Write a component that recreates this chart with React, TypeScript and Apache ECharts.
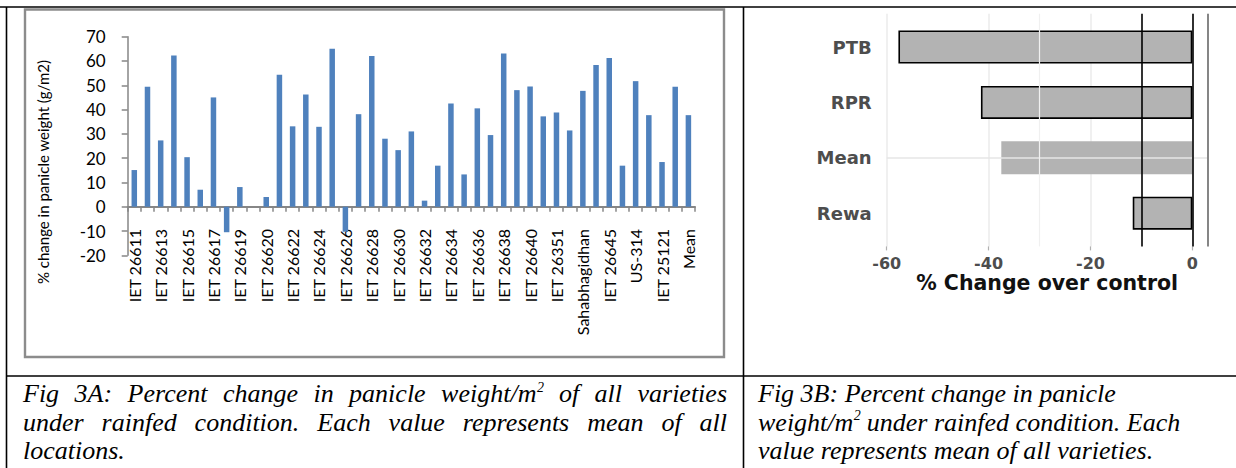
import React, { useEffect, useRef } from "react";
import * as echarts from "echarts";

// Fig 3A: varieties (every other name is printed on the axis) and % change in panicle weight
const varieties = [
  "IET 26611", "IET 26612", "IET 26613", "IET 26614", "IET 26615", "IET 26616",
  "IET 26617", "IET 26618", "IET 26619", "IET 26610", "IET 26620", "IET 26621",
  "IET 26622", "IET 26623", "IET 26624", "IET 26625", "IET 26626", "IET 26627",
  "IET 26628", "IET 26629", "IET 26630", "IET 26631", "IET 26632", "IET 26633",
  "IET 26634", "IET 26635", "IET 26636", "IET 26637", "IET 26638", "IET 26639",
  "IET 26640", "IET 26641", "IET 26351", "IET 26642", "Sahabhagidhan", "IET 26643",
  "IET 26645", "IET 26646", "US-314", "IET 26644", "IET 25121", "IR 64", "Mean",
];
const panicleChange = [
  15.1, 49.4, 27.3, 62.3, 20.4, 7.0,
  45.0, -10.5, 8.1, 0, 4.0, 54.3,
  33.1, 46.2, 32.9, 65.0, -10.3, 38.1,
  62.1, 28.0, 23.3, 31.0, 2.5, 16.9,
  42.5, 13.3, 40.5, 29.5, 63.1, 48.0,
  49.5, 37.2, 38.8, 31.4, 47.7, 58.3,
  61.2, 16.9, 51.7, 37.7, 18.4, 49.4, 37.7,
];
const yTitleA = "% change in panicle weight (g/m2)";

// Fig 3B: locations (bottom to top) and % change over control
const locations = ["Rewa", "Mean", "RPR", "PTB"];
const locationChange = [-11.7, -37.5, -41.5, -57.7];
const outlined = [true, false, true, true];
const referenceLines = [-10, 0];
const xTitleB = "% Change over control";

// Captions; "^" marks a superscript
const captionA = [
  "Fig 3A: Percent change in panicle weight/m^2 of all varieties",
  "under rainfed condition. Each value represents mean of all",
  "locations.",
];
const captionB = [
  "Fig 3B: Percent change in panicle",
  "weight/m^2 under rainfed condition. Each",
  "value represents mean of all varieties.",
];

const EXCEL_FONT = "Lato";
const GG_FONT = "DejaVu Sans";
const CAP_SIZE = 26;
const SUP_SIZE = 14;
const capFont = `italic ${CAP_SIZE}px "Liberation Serif"`;
const supFont = `italic ${SUP_SIZE}px "Liberation Serif"`;

function buildCaption(
  lines: string[],
  x0: number,
  x1: number,
  baselines: number[],
  justify: boolean[]
): any[] {
  const ctx = document.createElement("canvas").getContext("2d")!;
  const measure = (t: string, f: string) => {
    ctx.font = f;
    return ctx.measureText(t).width;
  };
  const spaceW = measure(" ", capFont);
  const out: any[] = [];
  lines.forEach((line, li) => {
    const words = line.split(" ").map((w) => {
      const [main, sup] = w.split("^");
      const wm = measure(main, capFont);
      const ws = sup ? measure(sup, supFont) : 0;
      return { main, sup, wm, width: wm + ws };
    });
    const total = words.reduce((s, w) => s + w.width, 0);
    const gap =
      justify[li] && words.length > 1 ? (x1 - x0 - total) / (words.length - 1) : spaceW;
    const yMid = baselines[li] - CAP_SIZE * 0.3375;
    let x = x0;
    words.forEach((w) => {
      out.push({
        type: "text",
        x,
        y: yMid,
        silent: true,
        style: {
          text: w.main,
          font: capFont,
          lineHeight: CAP_SIZE - 2,
          fill: "#000",
          textAlign: "left",
          textVerticalAlign: "middle",
        },
      });
      if (w.sup) {
        // superscript sits just under the line above
        out.push({
          type: "text",
          x: x + w.wm + 0.5,
          y: baselines[li] - 15.5,
          silent: true,
          style: {
            text: w.sup,
            font: supFont,
            lineHeight: 9,
            fill: "#000",
            textAlign: "left",
            textVerticalAlign: "middle",
          },
        });
      }
      x += w.width + gap;
    });
  });
  return out;
}

export default function App() {
  const ref = useRef<HTMLDivElement>(null);

  useEffect(() => {
    if (!ref.current) return;
    const chart = echarts.init(ref.current, undefined, { renderer: "svg" });

    const tableLine = (x1: number, y1: number, x2: number, y2: number) => ({
      type: "line",
      silent: true,
      shape: { x1, y1, x2, y2 },
      style: { stroke: "#000", lineWidth: 1.6 },
    });

    const graphic: any[] = [
      tableLine(0, 7, 1236, 7),
      tableLine(6.5, 7, 6.5, 468),
      tableLine(743.5, 7, 743.5, 468),
      tableLine(6, 376, 1236, 376),
      {
        type: "rect",
        silent: true,
        shape: { x: 25, y: 9.5, width: 699, height: 347.5 },
        style: { fill: "none", stroke: "#8c8c8c", lineWidth: 2.4 },
      },
      {
        type: "text",
        x: 43,
        y: 172,
        rotation: Math.PI / 2,
        silent: true,
        style: {
          text: yTitleA,
          font: `15px "${EXCEL_FONT}"`,
          fill: "#000",
          textAlign: "center",
          textVerticalAlign: "middle",
        },
      },
      ...buildCaption(captionA, 23, 727, [402.5, 431, 459.5], [true, true, false]),
      ...buildCaption(captionB, 758, 1230, [402.5, 431, 459.5], [false, false, false]),
    ];

    const ggText = { fontFamily: GG_FONT, fontWeight: "bold" as const };

    chart.setOption({
      animation: false,
      backgroundColor: "#fff",
      graphic,
      grid: [
        { left: 127.7, right: 541, top: 36.7, bottom: 212.7, containLabel: false, outerBoundsMode: "none" },
        { left: 886.7, right: 28.4, top: 19.3, bottom: 227.1, containLabel: false, outerBoundsMode: "none" },
        { left: 886.7, right: 28.4, top: 13.7, bottom: 221.6, containLabel: false, outerBoundsMode: "none" },
      ],
      xAxis: [
        {
          gridIndex: 0,
          type: "category",
          data: varieties,
          boundaryGap: true,
          axisLine: { show: true, onZero: true, lineStyle: { color: "#868686", width: 2 } },
          axisTick: { show: true, interval: 0, length: 5, lineStyle: { color: "#868686", width: 1.5 } },
          axisLabel: {
            interval: 1,
            rotate: 90,
            margin: -26.3,
            color: "#000",
            fontFamily: EXCEL_FONT,
            fontSize: 16,
          },
          splitLine: { show: false },
        },
        { gridIndex: 1, type: "value", min: -60, max: 3, show: false },
        {
          gridIndex: 2,
          type: "value",
          min: -60,
          max: 3,
          interval: 20,
          axisLine: { show: false },
          axisTick: { show: true, length: 4, lineStyle: { color: "#b0b0b0", width: 1.2 } },
          axisLabel: { showMaxLabel: false, margin: 9, color: "#4d4d4d", fontSize: 16, ...ggText },
          splitLine: { show: true, lineStyle: { color: "#ebebeb", width: 1.5 } },
          name: xTitleB,
          nameLocation: "middle",
          nameGap: 25,
          nameTextStyle: { color: "#111", fontSize: 20.5, ...ggText },
        },
      ],
      yAxis: [
        {
          gridIndex: 0,
          type: "value",
          min: -20,
          max: 70,
          interval: 10,
          axisLine: { show: true, lineStyle: { color: "#868686", width: 1.5 } },
          axisTick: { show: true, length: 6, lineStyle: { color: "#868686", width: 1.5 } },
          axisLabel: { margin: 22, color: "#000", fontFamily: EXCEL_FONT, fontSize: 17 },
          splitLine: { show: false },
        },
        {
          gridIndex: 1,
          type: "category",
          data: locations,
          axisLine: { show: false },
          axisTick: {
            show: true,
            alignWithLabel: true,
            length: 5,
            interval: (i: number) => locations[i] === "Mean",
            lineStyle: { color: "#777", width: 1.2 },
          },
          axisLabel: { margin: 15, color: "#4d4d4d", fontSize: 18, ...ggText },
          splitLine: { show: false },
        },
        { gridIndex: 2, type: "value", min: 0, max: 1, show: false },
      ],
      series: [
        {
          type: "bar",
          xAxisIndex: 0,
          yAxisIndex: 0,
          data: panicleChange,
          barWidth: 5.5,
          itemStyle: { color: "#4f81bd" },
        },
        {
          type: "bar",
          xAxisIndex: 1,
          yAxisIndex: 1,
          z: 3,
          barWidth: 33,
          data: locationChange.map((v, i) => ({
            value: v,
            itemStyle: {
              color: "#b3b3b3",
              borderColor: "#000",
              borderWidth: outlined[i] ? 1.6 : 0,
            },
          })),
        },
        {
          type: "line",
          xAxisIndex: 1,
          yAxisIndex: 1,
          z: 1,
          data: [],
          markLine: {
            silent: true,
            symbol: ["none", "none"],
            label: { show: false },
            lineStyle: { color: "#e6e6e6", width: 1.5, type: "solid" },
            data: [{ yAxis: locations.indexOf("Mean") }],
          },
        },
        {
          type: "line",
          xAxisIndex: 2,
          yAxisIndex: 2,
          z: 1,
          data: [],
          markLine: {
            silent: true,
            symbol: ["none", "none"],
            label: { show: false },
            lineStyle: { color: "#f0f0f0", width: 1.2, type: "solid" },
            data: [{ xAxis: -30 }],
          },
        },
        {
          type: "line",
          xAxisIndex: 2,
          yAxisIndex: 2,
          z: 5,
          data: [],
          markLine: {
            silent: true,
            symbol: ["none", "none"],
            label: { show: false },
            lineStyle: { color: "#000", width: 1.6, type: "solid" },
            data: [
              ...referenceLines.map((v) => ({ xAxis: v })),
              { xAxis: 3, lineStyle: { color: "#6b6b6b", width: 1.6, type: "solid" } },
            ],
          },
        },
      ],
    });

    return () => chart.dispose();
  }, []);

  return (
    <div
      ref={ref}
      style={{ position: "absolute", left: 0, top: 0, width: 1236, height: 468, background: "#fff" }}
    />
  );
}
